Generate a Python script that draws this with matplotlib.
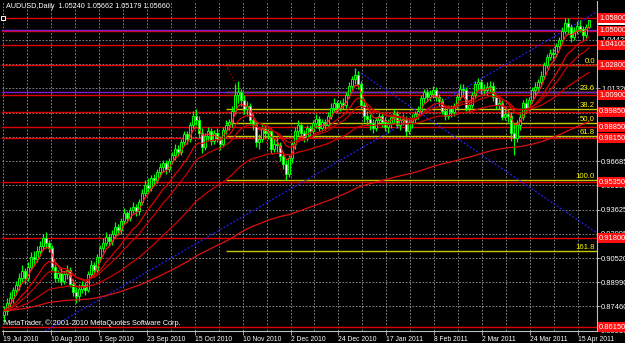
import numpy as np
import pandas as pd
import matplotlib
matplotlib.use("Agg")
import matplotlib.pyplot as plt
from matplotlib.transforms import blended_transform_factory

# AUDUSD daily bars, 19 Jul 2010 .. 20 Apr 2011 (one row = 16 bars)
open0 = 0.8690
close = [0.872, 0.877, 0.880, 0.885, 0.888, 0.893, 0.897, 0.893, 0.900, 0.906, 0.905, 0.910, 0.913, 0.918, 0.915, 0.912,
         0.900, 0.893, 0.896, 0.891, 0.895, 0.898, 0.889, 0.884, 0.881, 0.886, 0.888, 0.885, 0.895, 0.901, 0.898, 0.906,
         0.912, 0.915, 0.919, 0.916, 0.921, 0.925, 0.923, 0.929, 0.934, 0.931, 0.936, 0.938, 0.935, 0.941, 0.947, 0.952,
         0.950, 0.956, 0.955, 0.960, 0.963, 0.966, 0.962, 0.967, 0.971, 0.975, 0.973, 0.979, 0.984, 0.981, 0.990, 0.996,
         0.993, 0.985, 0.976, 0.983, 0.986, 0.980, 0.985, 0.981, 0.978, 0.987, 0.990, 0.992, 0.999, 1.009, 1.011, 1.006,
         1.000, 1.002, 0.993, 0.990, 0.979, 0.981, 0.988, 0.985, 0.986, 0.975, 0.978, 0.977, 0.970, 0.965, 0.959, 0.969,
         0.978, 0.986, 0.990, 0.985, 0.982, 0.988, 0.986, 0.991, 0.994, 0.988, 0.992, 0.990, 0.996, 1.001, 1.004, 1.001,
         1.004, 1.003, 1.009, 1.015, 1.019, 1.022, 1.016, 1.003, 0.996, 0.994, 0.991, 0.988, 0.993, 0.996, 0.992, 0.989,
         0.991, 0.995, 0.997, 0.990, 0.993, 0.994, 0.986, 0.992, 0.994, 0.997, 0.999, 1.007, 1.011, 1.008, 1.010, 1.012,
         1.008, 1.005, 0.999, 0.996, 1.001, 0.998, 1.002, 1.008, 1.013, 1.012, 1.001, 1.003, 1.009, 1.016, 1.017, 1.013,
         1.012, 1.014, 1.015, 1.008, 1.003, 1.004, 0.995, 0.997, 0.996, 0.985, 0.982, 0.990, 0.995, 1.004, 1.001, 1.006,
         1.012, 1.014, 1.017, 1.021, 1.028, 1.033, 1.036, 1.035, 1.040, 1.044, 1.050, 1.055, 1.052, 1.046, 1.050, 1.053,
         1.051, 1.047, 1.0524, 1.0566]
high = [0.875, 0.880, 0.884, 0.887, 0.891, 0.896, 0.901, 0.899, 0.903, 0.909, 0.910, 0.913, 0.916, 0.921, 0.922, 0.917,
        0.914, 0.902, 0.898, 0.899, 0.897, 0.901, 0.900, 0.892, 0.887, 0.889, 0.891, 0.890, 0.897, 0.904, 0.903, 0.908,
        0.914, 0.918, 0.922, 0.921, 0.923, 0.928, 0.927, 0.931, 0.937, 0.935, 0.938, 0.941, 0.940, 0.943, 0.949, 0.955,
        0.956, 0.958, 0.959, 0.962, 0.966, 0.968, 0.968, 0.969, 0.973, 0.978, 0.977, 0.981, 0.986, 0.986, 0.992, 0.999,
        1.000, 0.996, 0.988, 0.985, 0.989, 0.988, 0.987, 0.988, 0.983, 0.989, 0.993, 0.994, 1.002, 1.016, 1.018, 1.013,
        1.009, 1.005, 1.004, 0.997, 0.992, 0.984, 0.991, 0.990, 0.989, 0.988, 0.981, 0.982, 0.979, 0.973, 0.968, 0.971,
        0.980, 0.989, 0.993, 0.992, 0.987, 0.990, 0.990, 0.993, 0.997, 0.996, 0.994, 0.994, 0.998, 1.004, 1.007, 1.006,
        1.006, 1.007, 1.011, 1.017, 1.021, 1.026, 1.024, 1.018, 1.006, 0.999, 0.997, 0.994, 0.995, 0.999, 0.998, 0.995,
        0.994, 0.997, 1.000, 0.999, 0.995, 0.997, 0.996, 0.994, 0.997, 0.999, 1.002, 1.009, 1.013, 1.013, 1.012, 1.015,
        1.014, 1.010, 1.007, 1.002, 1.003, 1.003, 1.004, 1.010, 1.016, 1.016, 1.014, 1.006, 1.011, 1.018, 1.020, 1.019,
        1.016, 1.017, 1.018, 1.017, 1.010, 1.007, 1.006, 1.000, 1.000, 0.998, 0.991, 0.993, 0.998, 1.006, 1.007, 1.008,
        1.014, 1.017, 1.019, 1.024, 1.030, 1.035, 1.038, 1.039, 1.042, 1.046, 1.052, 1.058, 1.058, 1.054, 1.052, 1.056,
        1.057, 1.053, 1.054, 1.05662]
low = [0.865, 0.869, 0.874, 0.877, 0.882, 0.885, 0.890, 0.889, 0.891, 0.898, 0.901, 0.903, 0.907, 0.911, 0.912, 0.909,
       0.898, 0.890, 0.890, 0.888, 0.889, 0.892, 0.887, 0.881, 0.877, 0.878, 0.883, 0.882, 0.884, 0.893, 0.895, 0.896,
       0.903, 0.909, 0.913, 0.913, 0.914, 0.918, 0.920, 0.921, 0.927, 0.928, 0.929, 0.934, 0.932, 0.933, 0.939, 0.945,
       0.947, 0.948, 0.952, 0.953, 0.957, 0.960, 0.959, 0.960, 0.965, 0.968, 0.970, 0.971, 0.977, 0.978, 0.979, 0.988,
       0.990, 0.982, 0.972, 0.974, 0.980, 0.977, 0.978, 0.979, 0.974, 0.976, 0.984, 0.987, 0.989, 0.997, 1.004, 1.002,
       0.997, 0.996, 0.990, 0.987, 0.976, 0.975, 0.979, 0.982, 0.981, 0.972, 0.973, 0.973, 0.967, 0.962, 0.955, 0.957,
       0.966, 0.975, 0.983, 0.983, 0.979, 0.980, 0.983, 0.984, 0.988, 0.986, 0.986, 0.987, 0.988, 0.994, 0.998, 0.998,
       0.999, 1.000, 1.001, 1.007, 1.012, 1.016, 1.013, 1.001, 0.992, 0.990, 0.987, 0.985, 0.986, 0.990, 0.989, 0.986,
       0.985, 0.988, 0.992, 0.988, 0.987, 0.990, 0.983, 0.984, 0.988, 0.991, 0.994, 0.997, 1.004, 1.005, 1.005, 1.007,
       1.005, 1.002, 0.997, 0.993, 0.994, 0.995, 0.996, 1.000, 1.006, 1.009, 0.999, 0.998, 1.001, 1.007, 1.012, 1.010,
       1.009, 1.009, 1.011, 1.005, 1.000, 1.000, 0.993, 0.993, 0.992, 0.980, 0.971, 0.979, 0.987, 0.993, 0.998, 0.999,
       1.004, 1.009, 1.011, 1.015, 1.019, 1.026, 1.031, 1.032, 1.033, 1.038, 1.042, 1.048, 1.048, 1.043, 1.044, 1.048,
       1.049, 1.044, 1.045, 1.05179]

date_labels = ["19 Jul 2010", "10 Aug 2010", "1 Sep 2010", "23 Sep 2010", "15 Oct 2010",
               "10 Nov 2010", "2 Dec 2010", "24 Dec 2010", "17 Jan 2011", "8 Feb 2011",
               "2 Mar 2011", "24 Mar 2011", "15 Apr 2011"]
price_ticks = [1.04425, 1.02850, 1.01320, 0.99790, 0.98260, 0.96685, 0.95155,
               0.93625, 0.92095, 0.90520, 0.88990, 0.87460, 0.85930]
red_levels = [1.05800, 1.05000, 1.04100, 1.02800, 1.00900, 0.99850, 0.98850,
              0.98150, 0.95350, 0.91800, 0.86150]
purple_levels = [1.0502, 1.0107]
fib_ratios = [0.0, 23.6, 38.2, 50.0, 61.8, 100.0, 161.8]
fib_top, fib_bottom = 1.0280, 0.9550
fib_bars = (74, 94)
trend_up = [(20, 0.8660), (197, 1.0612)]
trend_down = [(117, 1.0255), (197.7, 0.9213)]
ma_spans = [5, 13, 21, 50, 150]
last_ohlc = [1.05240, 1.05662, 1.05179, 1.05660]

FONT = "Liberation Sans"
x_lo, x_hi = -0.67, 197.67

fig = plt.figure(figsize=(6.25, 3.43), dpi=100, facecolor="black")
ax = fig.add_axes([2 / 625, 12 / 343, 595 / 625, 330 / 343], facecolor="black")
ax.set_xlim(x_lo, x_hi)
ax.set_ylim(0.85902, 1.06881)

# grid
for v in price_ticks:
    ax.axhline(v, color="#9a9a9a", lw=0.6, ls=(0, (2, 2)), zorder=1)
for b in np.arange(0, 200, 8):
    ax.axvline(b - 0.5, color="#9a9a9a", lw=0.6, ls=(0, (2, 2)), zorder=1)

# fibonacci retracement (yellow rays) and its dotted base line
fib_prices = [fib_top - r / 100 * (fib_top - fib_bottom) for r in fib_ratios]
for r, p in zip(fib_ratios, fib_prices):
    ax.hlines(p, fib_bars[0], x_hi, color="#c8c800", lw=1, zorder=2)
    ax.text(1 - 2 / 595, p, f"{r:.1f}", transform=blended_transform_factory(ax.transAxes, ax.transData),
            ha="right", va="bottom", color="#ffff00", fontsize=5.6, family=FONT, zorder=9)
ax.plot(fib_bars, [fib_top, fib_bottom], color="#e00000", lw=0.8, ls=(0, (1, 2)), zorder=2)

# horizontal levels
for p in red_levels:
    ax.axhline(p, color="#e00000", lw=1, zorder=3)
for p in purple_levels:
    ax.axhline(p, color="#7a1fd0", lw=1, zorder=3)

# trend lines
ax.axline(trend_up[0], trend_up[1], color="#2020ff", lw=0.9, ls=(0, (1.5, 1.5)), zorder=3)
ax.plot([trend_down[0][0], trend_down[1][0]], [trend_down[0][1], trend_down[1][1]],
        color="#2020ff", lw=0.9, ls=(0, (1.5, 1.5)), zorder=3)

# candles
c = np.array(close)
o = np.r_[open0, c[:-1]]
x = np.arange(len(c))
up = c >= o
ax.vlines(x, low, high, color="#00ff00", lw=0.9, zorder=4)
ax.bar(x, np.abs(c - o), bottom=np.minimum(o, c), width=0.75,
       color=np.where(up, "black", "white"), edgecolor="#00ff00", linewidth=0.7, zorder=5)

# moving averages
s = pd.Series(c)
ma_colors = ["#ff2020", "#e00000", "#c80000", "#d00000", "#e01010"]
for span, col in zip(ma_spans, ma_colors):
    ax.plot(x, s.ewm(span=span, adjust=False).mean(), color=col, lw=0.9, zorder=6)

ax.plot(-0.2, red_levels[0], marker="s", ms=2.5, mfc="black", mec="white", mew=0.7, zorder=8, clip_on=False)

# axes look
for side in ["top", "left"]:
    ax.spines[side].set_visible(False)
for side in ["right", "bottom"]:
    ax.spines[side].set_color("#c0c0c0")
    ax.spines[side].set_linewidth(0.8)

ax.yaxis.tick_right()
ax.set_yticks(price_ticks)
ax.set_yticklabels([f"{v:.5f}" for v in price_ticks])
ax.tick_params(axis="y", colors="#c0c0c0", labelcolor="white", labelsize=5.4, length=2, width=0.6, pad=1)
ax.set_xticks([16 * i - 0.5 for i in range(len(date_labels))])
ax.set_xticklabels(date_labels, ha="left")
ax.tick_params(axis="x", colors="#c0c0c0", labelcolor="white", labelsize=4.9, length=3, width=0.6, pad=0.5)
for lab in ax.get_xticklabels() + ax.get_yticklabels():
    lab.set_family(FONT)

# price labels on the right scale
tr = blended_transform_factory(ax.transAxes, ax.transData)
ax.text(1 + 2 / 595, last_ohlc[3], f"{last_ohlc[3]:.5f}", transform=tr, ha="left", va="center",
        color="black", fontsize=5.4, family=FONT, zorder=10,
        bbox=dict(boxstyle="square,pad=0.2", fc="white", ec="none"))
for p in red_levels:
    ax.text(1 + 2 / 595, p, f"{p:.5f}", transform=tr, ha="left", va="center", color="white",
            fontsize=5.4, family=FONT, zorder=11,
            bbox=dict(boxstyle="square,pad=0.2", fc="#ff1010", ec="none"))

ax.text(0.006, 1 - 2 / 330, "AUDUSD,Daily  " + " ".join(f"{v:.5f}" for v in last_ohlc),
        transform=ax.transAxes, ha="left", va="top", color="white", fontsize=5.2, family=FONT, zorder=12)
ax.text(0.004, 4 / 330, "MetaTrader, \u00a9 2001-2010 MetaQuotes Software Corp.",
        transform=ax.transAxes, ha="left", va="bottom", color="white", fontsize=5.3, family=FONT, zorder=12)

fig.savefig("out.png", dpi=100, facecolor="black")
